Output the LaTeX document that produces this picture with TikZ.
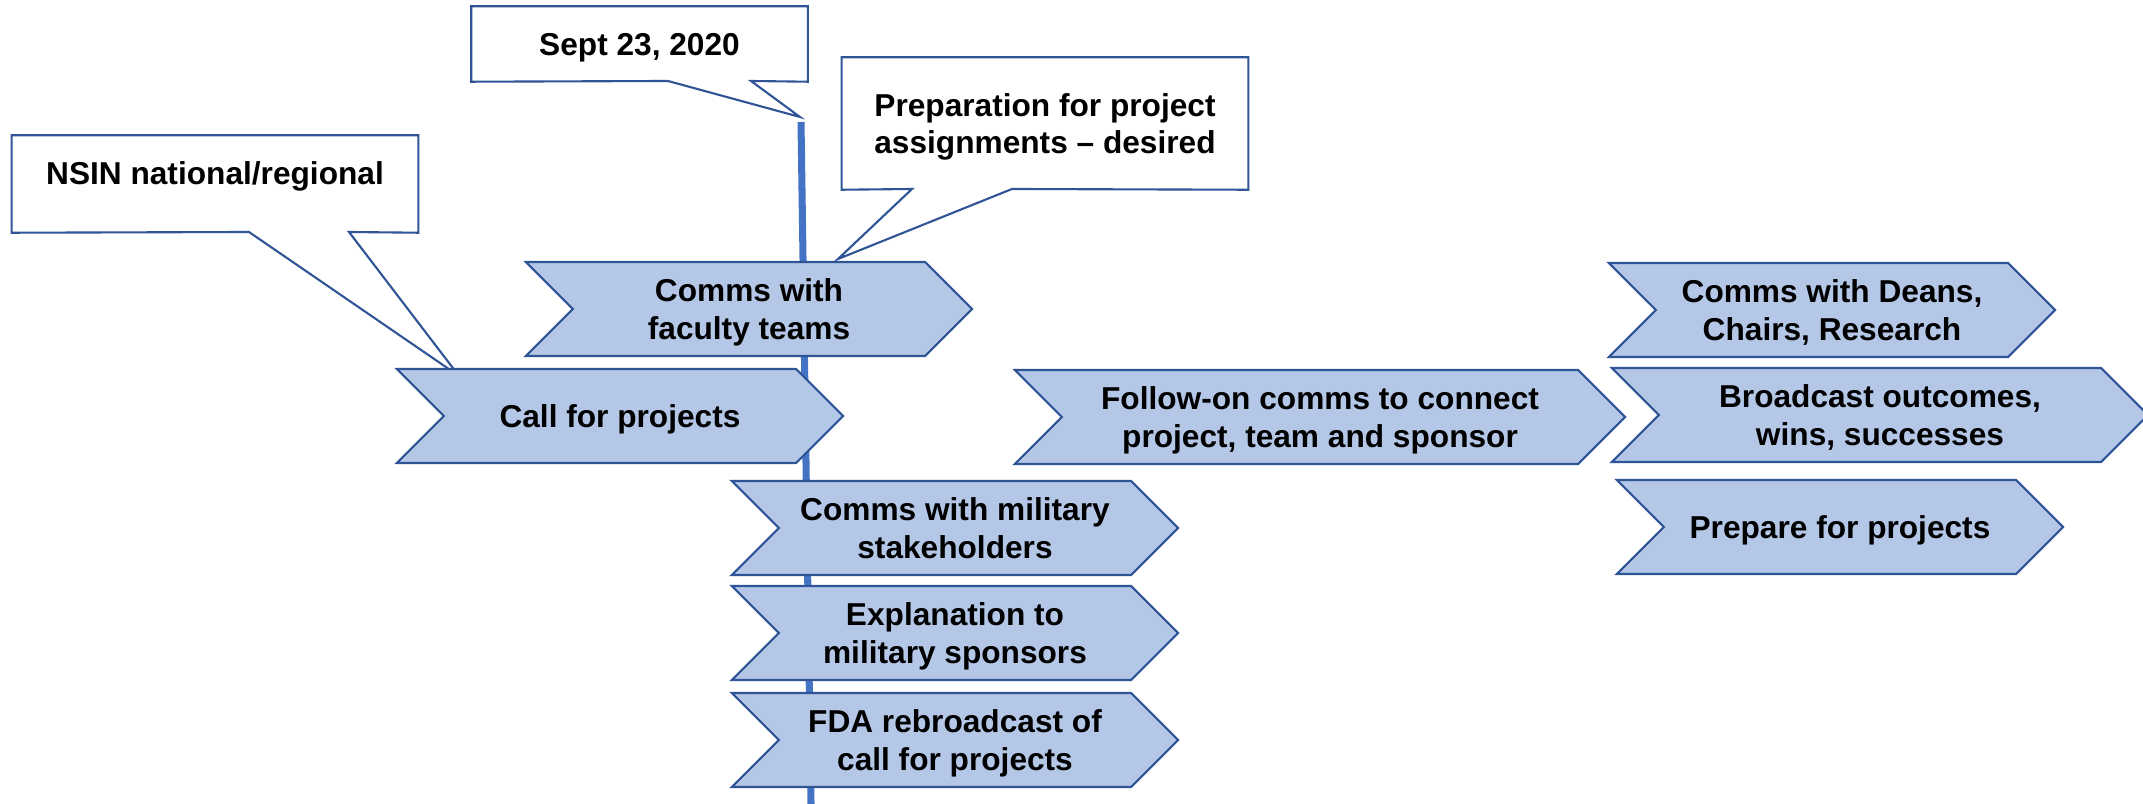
\documentclass[tikz,border=0pt]{standalone}
\usepackage{fontspec}
\setmainfont{Liberation Sans}
\usetikzlibrary{shapes.symbols,backgrounds}
\definecolor{stepfill}{RGB}{180,199,231}
\definecolor{stepline}{RGB}{47,85,151}
\definecolor{timeblue}{RGB}{68,114,196}

\begin{document}
\begin{tikzpicture}[
    x=0.01cm, y=-0.01cm,
    chev/.style={signal, signal from=west, signal to=east, signal pointer angle=90,
                 draw=stepline, line width=0.6pt, fill=stepfill,
                 minimum width=4.46cm, minimum height=0.94cm, inner sep=0pt,
                 text depth=0pt, align=center,
                 font=\fontsize{9pt}{10.8pt}\selectfont\bfseries},
    note/.style={rectangle, inner sep=0pt, text depth=0pt, align=center,
                 font=\fontsize{9pt}{10.6pt}\selectfont\bfseries},
    callout/.style={draw=stepline, line width=0.6pt, fill=white},
    timeline/.style={draw=timeblue, line width=2pt}]
  \useasboundingbox (0,0) rectangle (2143,804);
  % timeline
  \coordinate (tltop) at (801,122);
  \coordinate (tlbot) at (811,804);
  \draw[timeline] (tltop) -- (tlbot);
  % steps along the timeline
  \node[chev] (faculty) at (749,309) {Comms with\\faculty teams};
  \node[chev] (call)    at (620,416) {Call for projects};
  \node[chev] (military) at (955,528) {Comms with military\\stakeholders};
  \node[chev] (explain)  at (955,633) {Explanation to\\military sponsors};
  \node[chev] (fda)      at (955,740) {FDA rebroadcast of\\call for projects};
  % later steps
  \node[chev, minimum width=6.1cm] (follow) at (1320,417) {Follow-on comms to connect\\project, team and sponsor};
  \node[chev] (deans)   at (1832,310) {Comms with Deans,\\Chairs, Research};
  \node[chev, minimum width=5.36cm] (broad) at (1880,415) {Broadcast outcomes,\\wins, successes};
  \node[chev] (prepare) at (1840,527) {Prepare for projects};
  % callout texts
  \node[note, minimum width=3.35cm, minimum height=0.74cm] (sept) at (639.5,44) {Sept 23, 2020};
  \node[note, minimum width=4.05cm, minimum height=0.96cm, text depth=0.22cm] (nsin) at (215,184) {NSIN national/regional};
  \node[note, minimum width=4.05cm, minimum height=1.31cm] (prep) at (1045,123.5) {Preparation for project\\assignments -- desired};
  \coordinate (septa) at (668,81);
  \coordinate (septb) at (751,81);
  \coordinate (septptr) at (800,117);
  \coordinate (nsina) at (249,232);
  \coordinate (nsinb) at (349,232);
  \coordinate (nsinptr) at (459,376);
  \coordinate (prepa) at (912,189);
  \coordinate (prepb) at (1012,189);
  \coordinate (prepptr) at (838,259);
  \begin{scope}[on background layer]
    \draw[callout] (sept.north west) -- (sept.north east) -- (sept.south east) -- (septb)
      -- (septptr) -- (septa) -- (sept.south west) -- cycle;
    \draw[callout] (nsin.north west) -- (nsin.north east) -- (nsin.south east) -- (nsinb)
      -- (nsinptr) -- (nsina) -- (nsin.south west) -- cycle;
    \draw[callout] (prep.north west) -- (prep.north east) -- (prep.south east) -- (prepb)
      -- (prepptr) -- (prepa) -- (prep.south west) -- cycle;
  \end{scope}
\end{tikzpicture}
\end{document}
